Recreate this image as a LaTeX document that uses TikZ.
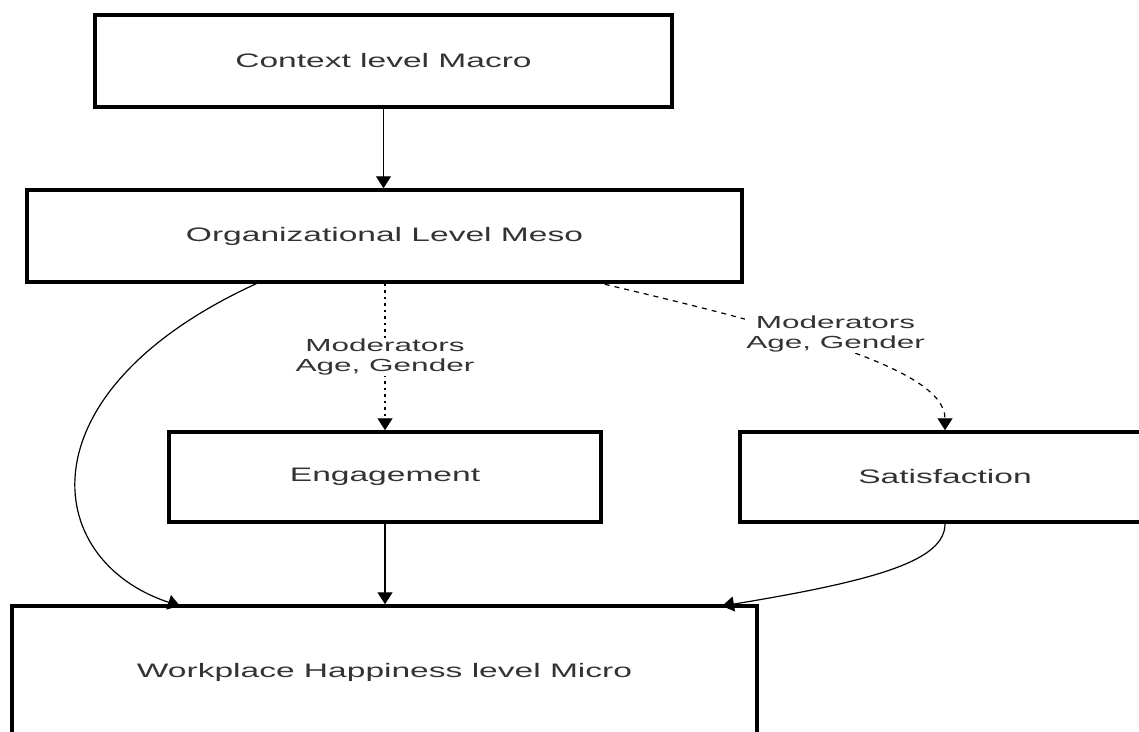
\documentclass[tikz,border=0pt]{standalone}
\usepackage{fontspec}
\setmainfont{Liberation Sans}
\newfontfamily\widefont[FakeStretch=1.72]{Liberation Sans}
\newfontfamily\lblfont[FakeStretch=1.8]{Liberation Sans}
\usetikzlibrary{arrows.meta}
\definecolor{txt}{HTML}{333333}
\begin{document}
\begin{tikzpicture}[x=1pt,y=-1pt,
  box/.style={draw=black, line width=3.5pt, rectangle, inner sep=0pt, text=txt,
    font=\widefont\fontsize{19.5}{23}\selectfont},
  conn/.style={draw=black, line width=1.4pt, -{Triangle[width=15pt,length=12pt]}},
  dotconn/.style={conn, dash pattern=on 2.5pt off 4pt},
  dashconn/.style={conn, line width=1.2pt, dash pattern=on 5pt off 5pt},
  lbl/.style={fill=white, text=txt, align=center, inner sep=1pt,
    font=\lblfont\fontsize{17.5}{20}\selectfont}]
\useasboundingbox[fill=white] (0,0) rectangle (1139,731);

\node[box, minimum width=577pt, minimum height=92pt] (ctx) at (383.5,61) {Context level Macro};
\node[box, minimum width=715pt, minimum height=92pt] (org) at (384.5,236) {Organizational Level Meso};
\node[box, minimum width=432pt, minimum height=90pt] (eng) at (385,477) {Engagement};
\node[box, minimum width=410pt, minimum height=90pt] (sat) at (945,477) {Satisfaction};
\node[box, minimum width=745pt, minimum height=132pt] (wp) at (384.5,672) {Workplace Happiness level Micro};

\coordinate (orgL) at (260,282);
\coordinate (orgR) at (595,282);
\coordinate (wpL) at (180,606);
\coordinate (wpR) at (722,606);

\draw[conn] (ctx.south) -- (ctx.south |- org.north);
\draw[dotconn] (eng.north |- org.south) -- node[lbl] {Moderators\\Age, Gender} (eng.north);
\draw[dashconn] (orgR) .. controls (800,330) and (945,370) .. node[lbl, pos=0.45, xshift=8pt, yshift=11pt] {Moderators\\Age, Gender} (sat.north);
\draw[conn, line width=1.2pt] (orgL) .. controls (20,390) and (40,560) .. (wpL);
\draw[conn] (eng.south) -- (eng.south |- wp.north);
\draw[conn, line width=1.2pt] (sat.south) .. controls (945,560) and (880,580) .. (wpR);
\end{tikzpicture}
\end{document}
